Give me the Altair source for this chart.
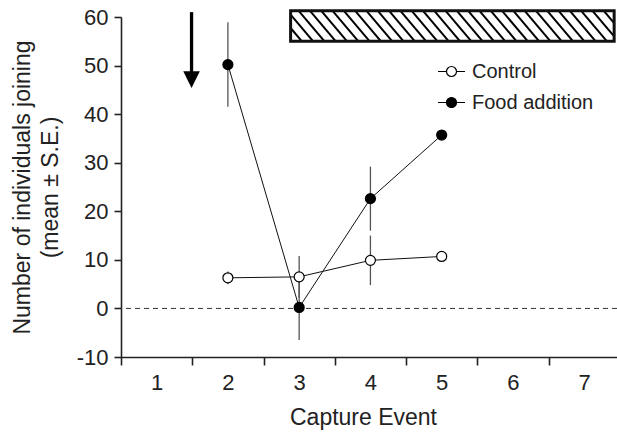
import altair as alt
import numpy as np
import pandas as pd

# ---- data ----
events = [2, 3, 4, 5]
control_mean = [6.3, 6.5, 9.9, 10.7]
control_se = [1.3, 4.3, 5.1, 0.0]
food_mean = [50.2, 0.2, 22.6, 35.7]
food_se = [8.7, 6.7, 6.6, 0.0]
series_names = ["Control", "Food addition"]

x_label_values = [1, 2, 3, 4, 5, 6, 7]
x_tick_values = [0.5, 1.5, 2.5, 3.5, 4.5, 5.5, 6.5, 7.5]
y_ticks = [-10, 0, 10, 20, 30, 40, 50, 60]

# annotation positions (data units)
arrow_x = 1.49
arrow_top = 61.0
arrow_line_end = 48.6
arrow_head_y = 47.1
bar_x0, bar_x1 = 2.88, 7.42
bar_y0, bar_y1 = 55.0, 61.3

FONT = "Liberation Sans"
W, H = 496, 340
XDOM = [0.5, 7.46]
YDOM = [-10, 60]

rows = []
for e, m, s in zip(events, control_mean, control_se):
    rows.append({"event": e, "mean": m, "lo": m - s, "hi": m + s, "series": series_names[0]})
for e, m, s in zip(events, food_mean, food_se):
    rows.append({"event": e, "mean": m, "lo": m - s, "hi": m + s, "series": series_names[1]})
df = pd.DataFrame(rows)
err_df = df[df["hi"] > df["lo"]]

xs = alt.Scale(domain=XDOM, nice=False, zero=False)
ys = alt.Scale(domain=YDOM, nice=False, zero=False)

x_axis_ticks = alt.Axis(
    title=None, orient="bottom", values=x_tick_values, labels=False,
    grid=False, tickSize=8, domain=True,
)
x_axis_labels = alt.Axis(
    title="Capture Event", orient="bottom", values=x_label_values,
    ticks=False, domain=False, grid=False, labelOverlap=False, labelFlush=False,
    labelPadding=15, titlePadding=13,
    labelFontSize=22, titleFontSize=23, titleFontWeight="normal",
    titleX=242,
)
y_axis = alt.Axis(
    title=["Number of individuals joining", "(mean ± S.E.)"],
    values=y_ticks, labelExpr="'' + datum.value",
    labelOverlap=False,
    grid=False, tickSize=7, labelPadding=6, titlePadding=14,
    labelFontSize=22, titleFontSize=23, titleFontWeight="normal",
    titleLineHeight=28,
)

base = alt.Chart(df)

zero_line = alt.Chart(pd.DataFrame({"z": [0]})).mark_rule(
    color="#333", strokeWidth=1, strokeDash=[5, 4]
).encode(y=alt.Y("z:Q", scale=ys, axis=y_axis))

errbars = alt.Chart(err_df).mark_rule(color="#555", strokeWidth=1.3).encode(
    x=alt.X("event:Q", scale=xs, axis=x_axis_ticks),
    y=alt.Y("lo:Q", scale=ys),
    y2="hi:Q",
)

lines = base.mark_line(color="#111", strokeWidth=1).encode(
    x=alt.X("event:Q", scale=xs, axis=x_axis_labels),
    y=alt.Y("mean:Q", scale=ys),
    detail="series:N",
)

legend_path = ("M-1,0L-0.37,0M0.37,0L1,0M-0.37,0A0.37,0.37 0 1,1 0.37,0"
               "A0.37,0.37 0 1,1 -0.37,0Z")
points = base.mark_point(filled=True, stroke="black", strokeWidth=1.2, opacity=1).encode(
    x=alt.X("event:Q", scale=xs, axis=None),
    y=alt.Y("mean:Q", scale=ys),
    fill=alt.Fill(
        "series:N",
        scale=alt.Scale(domain=series_names, range=["white", "black"]),
        legend=alt.Legend(
            title=None, orient="none", legendX=316, legendY=40,
            symbolType=legend_path, symbolSize=729, symbolStrokeColor="black",
            symbolStrokeWidth=1.2, symbolOpacity=1, labelFontSize=20, labelFont=FONT,
            labelColor="#222", rowPadding=6, labelOffset=6, padding=0,
        ),
    ),
)

# arrow
arrow_df = pd.DataFrame({"x": [arrow_x], "top": [arrow_top], "end": [arrow_line_end],
                         "head": [arrow_head_y]})
arrow_shaft = alt.Chart(arrow_df).mark_rule(color="black", strokeWidth=3.3).encode(
    x=alt.X("x:Q", scale=xs, axis=None), y=alt.Y("top:Q", scale=ys), y2="end:Q")
arrow_head = alt.Chart(arrow_df).mark_point(
    shape="M-1,-1L1,-1L0,1Z", filled=True, color="black", size=276, opacity=1
).encode(x=alt.X("x:Q", scale=xs, axis=None), y=alt.Y("head:Q", scale=ys))

# hatched bar
bar_df = pd.DataFrame({"x0": [bar_x0], "x1": [bar_x1], "y0": [bar_y0], "y1": [bar_y1]})
bar_fill = alt.Chart(bar_df).mark_rect(fill="white", stroke=None).encode(
    x=alt.X("x0:Q", scale=xs, axis=None), x2="x1:Q", y=alt.Y("y0:Q", scale=ys), y2="y1:Q")
bar_border = alt.Chart(bar_df).mark_rect(fill=None, stroke="#111", strokeWidth=3).encode(
    x=alt.X("x0:Q", scale=xs, axis=None), x2="x1:Q", y=alt.Y("y0:Q", scale=ys), y2="y1:Q")

pxx = W / (XDOM[1] - XDOM[0])
hatch_dx = 26 / pxx      # horizontal run of one hatch line
hatch_step = 11.3 / pxx  # spacing of hatch lines
hx0, hx1, hy0, hy1 = [], [], [], []
s = bar_x0 - hatch_dx
while s < bar_x1:
    a, b = s, s + hatch_dx  # from (a, top) to (b, bottom)
    ca, cb = max(a, bar_x0), min(b, bar_x1)
    if cb > ca:
        t0 = (ca - a) / hatch_dx
        t1 = (cb - a) / hatch_dx
        hx0.append(ca); hx1.append(cb)
        hy0.append(bar_y1 - t0 * (bar_y1 - bar_y0))
        hy1.append(bar_y1 - t1 * (bar_y1 - bar_y0))
    s += hatch_step
hatch_df = pd.DataFrame({"x0": hx0, "x1": hx1, "y0": hy0, "y1": hy1})
hatch = alt.Chart(hatch_df).mark_rule(color="black", strokeWidth=2).encode(
    x=alt.X("x0:Q", scale=xs, axis=None), x2="x1:Q", y=alt.Y("y0:Q", scale=ys), y2="y1:Q")

chart = alt.layer(
    zero_line, errbars, lines, points, arrow_shaft, arrow_head, bar_fill, hatch, bar_border
).resolve_axis(x="independent").properties(
    width=W, height=H, autosize="none",
    padding={"left": 121, "top": 17, "right": 0, "bottom": 76},
    background="white",
).configure_view(stroke=None).configure_point(size=100).configure_axis(
    domainColor="#222", domainWidth=1.6, tickColor="#222", tickWidth=1.6,
    labelColor="#222", titleColor="#222", labelFont=FONT, titleFont=FONT,
)

chart.save("out.html", embed_options={"renderer": "svg", "actions": False})
